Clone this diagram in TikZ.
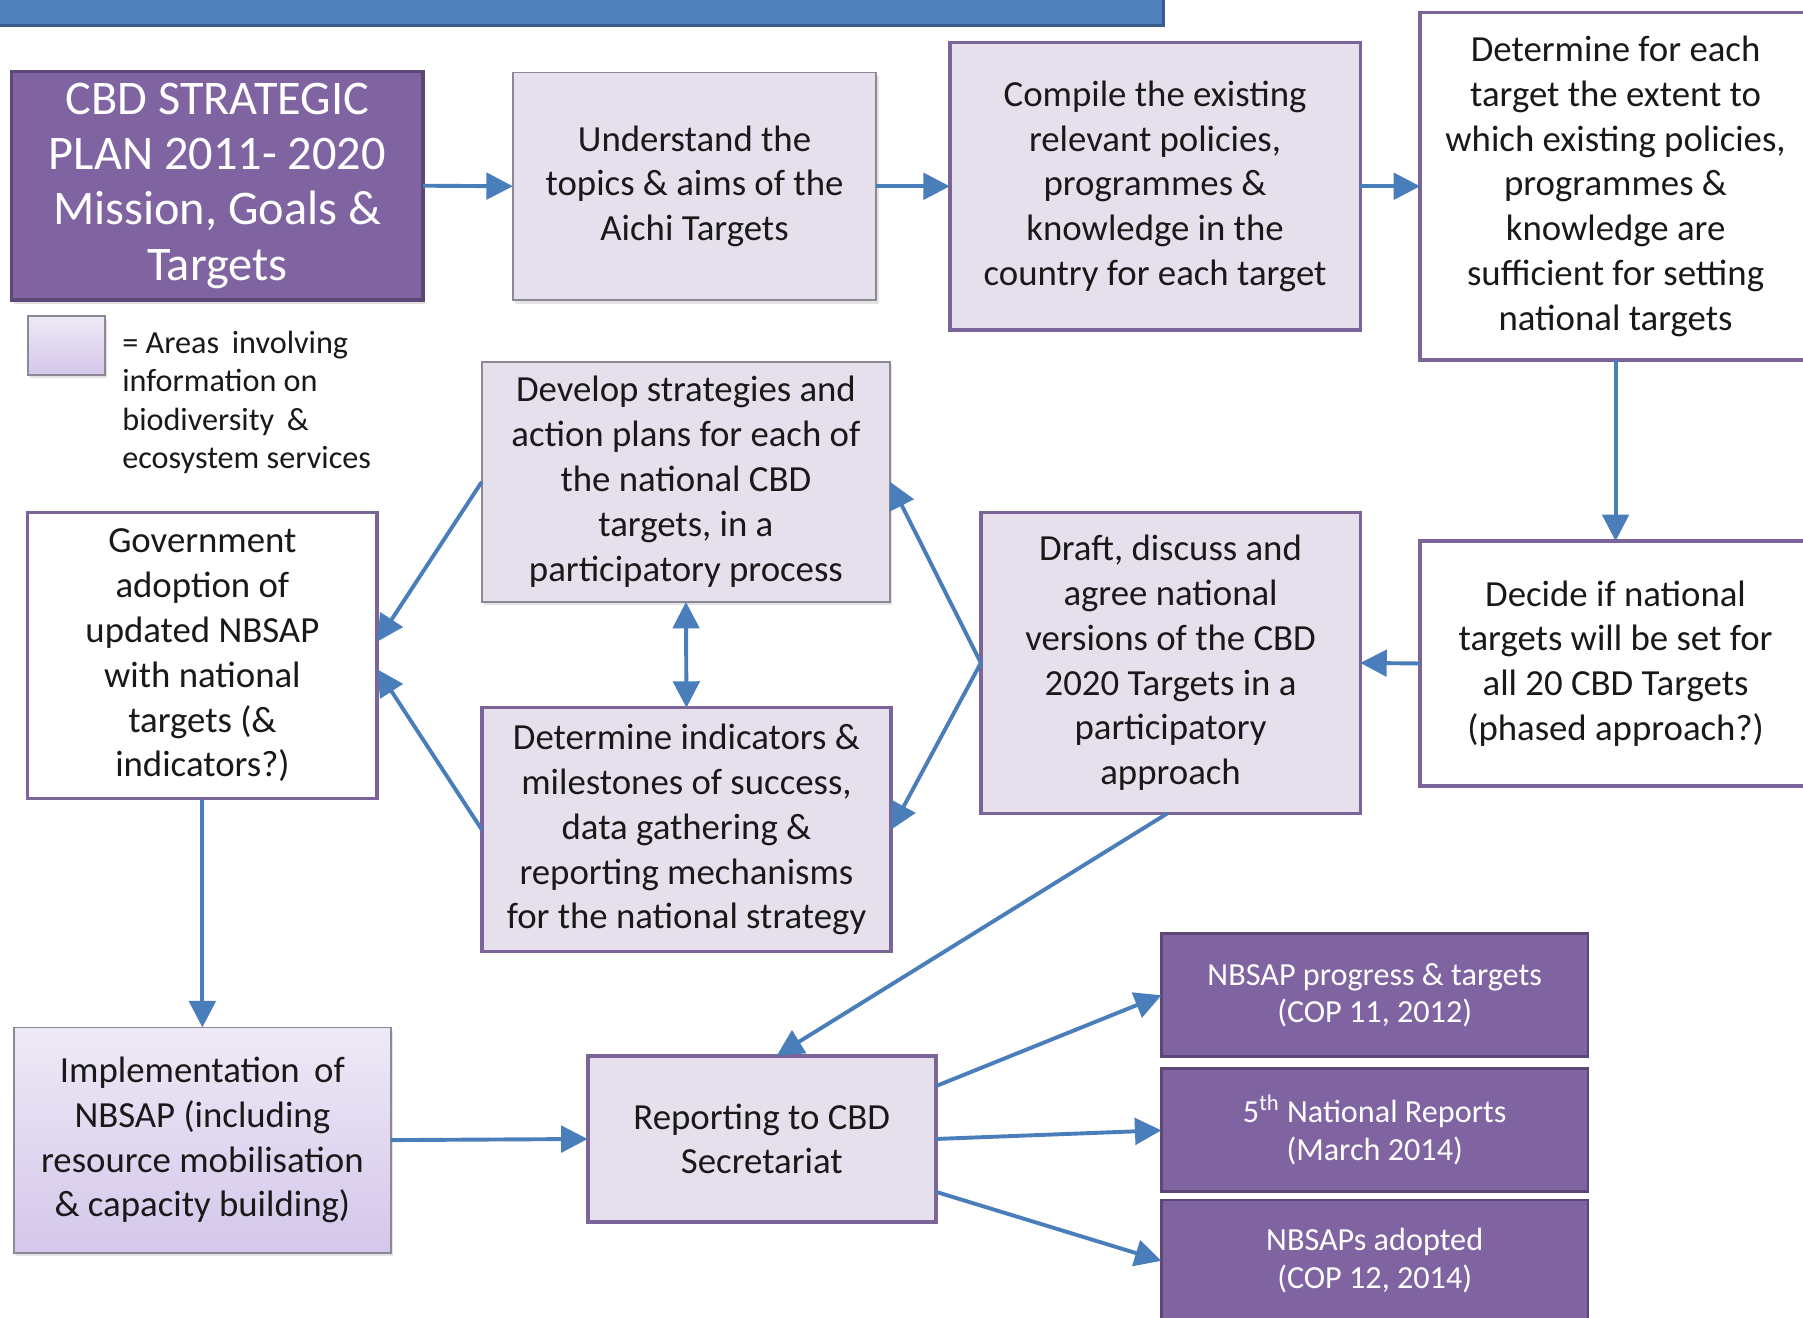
\documentclass[tikz,border=0pt]{standalone}
\usepackage{fontspec}
\setmainfont{Carlito}
\usetikzlibrary{arrows.meta,calc,shadows,positioning}
\definecolor{darkpurple}{RGB}{128,100,162}
\definecolor{darkpurpleedge}{RGB}{92,71,118}
\definecolor{lav}{RGB}{230,224,236}
\definecolor{lavedge}{RGB}{122,100,152}
\definecolor{grayedge}{RGB}{140,136,150}
\definecolor{arrowblue}{RGB}{74,126,187}
\definecolor{titleblue}{RGB}{79,129,189}
\definecolor{titleedge}{RGB}{56,93,138}
\definecolor{gradtop}{RGB}{238,233,246}
\definecolor{gradbot}{RGB}{212,199,234}
\definecolor{txt}{RGB}{25,25,25}
\tikzset{
  x=0.5pt,y=-0.5pt,
  boxbase/.style={rectangle,inner sep=0pt,outer sep=0pt,align=center,text=txt,
    font=\fontsize{16}{19.5}\selectfont},
  litebox/.style={boxbase,fill=lav,draw=grayedge,line width=0.8pt,
    drop shadow={opacity=0.22,shadow xshift=1pt,shadow yshift=-1.5pt}},
  litepurple/.style={boxbase,fill=lav,draw=lavedge,line width=1.5pt},
  whitebox/.style={boxbase,fill=white,draw=lavedge,line width=1.5pt},
  gradbox/.style={boxbase,top color=gradtop,bottom color=gradbot,draw=grayedge,line width=0.8pt,
    drop shadow={opacity=0.22,shadow xshift=1pt,shadow yshift=-1.5pt}},
  darkbox/.style={boxbase,fill=darkpurple,draw=darkpurpleedge,line width=1.2pt,text=white,
    font=\fontsize{14}{16.5}\selectfont},
  flow/.style={draw=arrowblue,line width=1.7pt,-{Triangle[length=11.5pt,width=11.5pt]}},
  flowboth/.style={draw=arrowblue,line width=1.7pt,{Triangle[length=11.5pt,width=11.5pt]}-{Triangle[length=11.5pt,width=11.5pt]}},
}
\begin{document}
\begin{tikzpicture}
\useasboundingbox (0,0) rectangle (1568,1146);
\clip (0,0) rectangle (1568,1146);
\fill[white] (0,0) rectangle (1568,1146);
% title bar (text cut off at top)
\draw[fill=titleblue,draw=titleedge,line width=1.5pt] (-10,-40) rectangle (1012,22);

% nodes
\node[boxbase,fill=darkpurple,draw=darkpurpleedge,line width=1.5pt,text=white,
  font=\fontsize{21}{24}\selectfont,minimum width=179pt,minimum height=99.5pt,
  drop shadow={opacity=0.25,shadow xshift=1pt,shadow yshift=-1.5pt}]
  (cbd) at (189,161.5) {CBD STRATEGIC\\PLAN 2011- 2020\\Mission, Goals \&\\Targets};
\node[litebox,minimum width=158pt,minimum height=99pt] (understand) at (604,162)
  {Understand the\\topics \& aims of the\\Aichi Targets};
\node[litepurple,minimum width=178.5pt,minimum height=125pt] (compile) at (1004.5,162)
  {Compile the existing\\relevant policies,\\programmes \&\\knowledge in the\\country for each target};
\node[whitebox,minimum width=170pt,minimum height=151pt] (determine) at (1405,162)
  {Determine for each\\target the extent to\\which existing policies,\\programmes \&\\knowledge are\\sufficient for setting\\national targets};

% legend
\node[gradbox,minimum width=33.5pt,minimum height=25.5pt] (swatch) at (57.5,300.5) {};
\node[anchor=west,align=left,inner sep=0pt,text=txt,font=\fontsize{14}{16.75}\selectfont]
  (legend) at (106,350) {= Areas\, involving\\information on\\biodiversity\, \&\\ecosystem services};

\node[litebox,minimum width=177.5pt,minimum height=104.5pt] (develop) at (596.5,419)
  {Develop strategies and\\action plans for each of\\the national CBD\\targets, in a\\participatory process};
\node[whitebox,minimum width=152pt,minimum height=124.5pt] (government) at (176,570)
  {Government\\adoption of\\updated NBSAP\\with national\\targets (\&\\indicators?)};
\node[litepurple,minimum width=178pt,minimum height=106pt] (indicators) at (597,721.5)
  {Determine indicators \&\\milestones of success,\\data gathering \&\\reporting mechanisms\\for the national strategy};
\node[litepurple,minimum width=165pt,minimum height=131pt] (draft) at (1018,576.5)
  {Draft, discuss and\\agree national\\versions of the CBD\\2020 Targets in a\\participatory\\approach};
\node[whitebox,minimum width=170pt,minimum height=106.5pt] (decide) at (1405,577)
  {Decide if national\\targets will be set for\\all 20 CBD Targets\\(phased approach?)};
\node[gradbox,minimum width=164pt,minimum height=98pt] (implementation) at (176,991.5)
  {Implementation\, of\\NBSAP (including\\resource mobilisation\\\& capacity building)};
\node[litepurple,minimum width=151.5pt,minimum height=72.5pt,line width=1.8pt] (reporting) at (662.5,990.5)
  {Reporting to CBD\\Secretariat};
\node[darkbox,minimum width=185.5pt,minimum height=53.5pt] (nbone) at (1195.5,865.5)
  {NBSAP progress \& targets\\(COP 11, 2012)};
\node[darkbox,minimum width=185.5pt,minimum height=53.5pt] (nbtwo) at (1195.5,983)
  {5\textsuperscript{th} National Reports\\(March 2014)};
\node[darkbox,minimum width=185.5pt,minimum height=53pt] (nbthree) at (1195.5,1096.5)
  {NBSAPs adopted\\(COP 12, 2014)};

% connectors
\draw[flow] (cbd.east) -- (understand.west);
\draw[flow] (understand.east) -- (compile.west);
\draw[flow] (compile.east) -- (determine.west);
\draw[flow] (determine.south) -- (decide.north);
\draw[flow] (decide.west) -- (draft.east);
\draw[flow] (draft.west) -- (develop.east);
\draw[flow] (draft.west) -- (indicators.east);
\draw[flowboth] (develop.south) -- (indicators.north);
\draw[flow] (develop.west) -- ($(government.east)+(0,-12)$);
\draw[flow] (indicators.west) -- ($(government.east)+(0,12)$);
\draw[flow] (government.south) -- (implementation.north);
\draw[flow] (implementation.east) -- (reporting.west);
\draw[flow] ($(draft.south)+(-3,0)$) -- ($(reporting.north)+(13,0)$);
\draw[flow] ($(reporting.east)+(0,-46)$) -- (nbone.west);
\draw[flow] (reporting.east) -- (nbtwo.west);
\draw[flow] ($(reporting.east)+(0,46)$) -- (nbthree.west);
\end{tikzpicture}
\end{document}
